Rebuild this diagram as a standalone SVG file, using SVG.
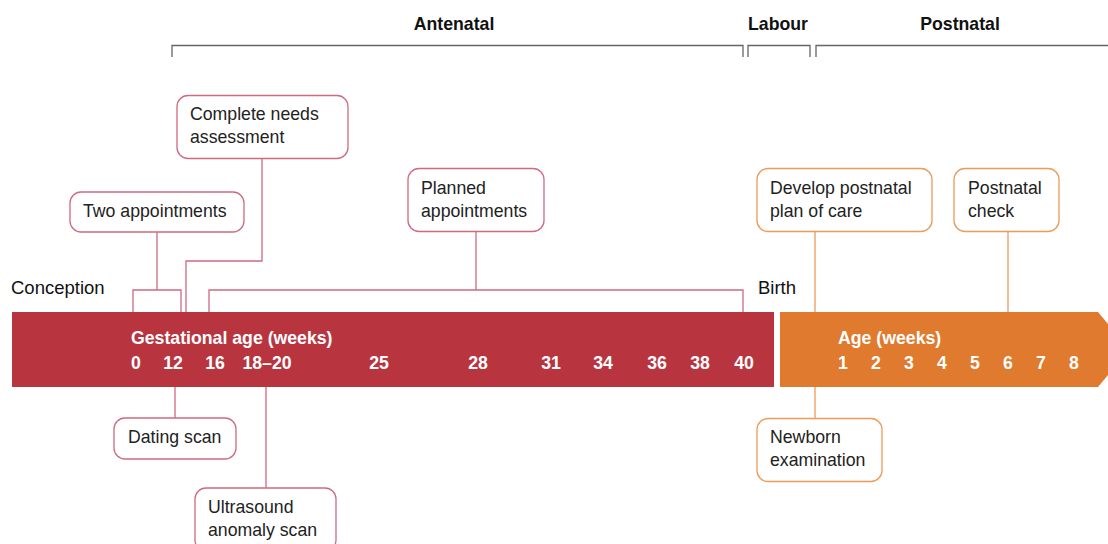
<svg xmlns="http://www.w3.org/2000/svg" width="1108" height="544" viewBox="0 0 1108 544">
<style>
text{font-family:"Liberation Sans",Arial,Helvetica,sans-serif;}
.hdr{font-size:17.7px;font-weight:bold;fill:#111;text-anchor:middle;}
.brk{fill:none;stroke:#666;stroke-width:1.3;}
.lbl{font-size:18.5px;fill:#111;}
.box{font-size:17.7px;fill:#222;}
.rbox{fill:#fff;stroke:#cf6a80;stroke-width:1.3;}
.obox{fill:#fff;stroke:#ee9a58;stroke-width:1.3;}
.rl{fill:none;stroke:#cf6a80;stroke-width:1.3;}
.ol{fill:none;stroke:#ee9a58;stroke-width:1.3;}
.bt{font-size:17.7px;font-weight:bold;fill:#fff;}
.num{font-size:17.7px;font-weight:bold;fill:#fff;text-anchor:middle;}
</style>
<rect width="1108" height="544" fill="#fff"/>
<g id="phases">
<text class="hdr" x="454" y="30">Antenatal</text>
<text class="hdr" x="778" y="30">Labour</text>
<text class="hdr" x="960" y="30">Postnatal</text>
<path class="brk" d="M172,57 V45.5 H743 V57"/>
<path class="brk" d="M748,57 V45.5 H810 V57"/>
<path class="brk" d="M816,57 V45.5 H1108"/>
</g>
<g id="bars">
<rect x="12" y="312" width="762" height="75" fill="#b83540"/>
<polygon points="780,312 1098,312 1129,349.5 1098,387 780,387" fill="#df7a2f"/>
<text class="bt" x="131" y="344">Gestational age (weeks)</text>
<text class="num" x="136" y="369">0</text>
<text class="num" x="173" y="369">12</text>
<text class="num" x="215" y="369">16</text>
<text class="num" x="267" y="369">18–20</text>
<text class="num" x="379" y="369">25</text>
<text class="num" x="478" y="369">28</text>
<text class="num" x="551" y="369">31</text>
<text class="num" x="603" y="369">34</text>
<text class="num" x="657" y="369">36</text>
<text class="num" x="700" y="369">38</text>
<text class="num" x="744" y="369">40</text>
<text class="bt" x="838" y="344">Age (weeks)</text>
<text class="num" x="843" y="369">1</text>
<text class="num" x="876" y="369">2</text>
<text class="num" x="909" y="369">3</text>
<text class="num" x="942" y="369">4</text>
<text class="num" x="975" y="369">5</text>
<text class="num" x="1008" y="369">6</text>
<text class="num" x="1041" y="369">7</text>
<text class="num" x="1074" y="369">8</text>
</g>
<g id="markers">
<text class="lbl" x="11" y="294">Conception</text>
<text class="lbl" x="758" y="294">Birth</text>
</g>
<g id="connectors">
<path class="rl" d="M157,232 V290 M133,312 V290 H181 V312"/>
<path class="rl" d="M262,159 V261 H186 V312"/>
<path class="rl" d="M476,232 V290 M209,312 V290 H743 V312"/>
<path class="rl" d="M175,387 V418"/>
<path class="rl" d="M266,387 V488"/>
<path class="ol" d="M815,232 V312"/>
<path class="ol" d="M1008,232 V312"/>
<path class="ol" d="M815,387 V418"/>
</g>
<g id="complete-needs">
<rect class="rbox" x="177" y="95.5" width="171" height="63" rx="11"/>
<text class="box" x="190" y="120">Complete needs</text>
<text class="box" x="190" y="143">assessment</text>
</g>
<g id="two-appointments">
<rect class="rbox" x="70" y="192" width="174" height="40" rx="11"/>
<text class="box" x="83" y="217">Two appointments</text>
</g>
<g id="planned-appointments">
<rect class="rbox" x="408" y="168.5" width="136" height="63" rx="11"/>
<text class="box" x="421" y="194">Planned</text>
<text class="box" x="421" y="217">appointments</text>
</g>
<g id="develop-plan">
<rect class="obox" x="757" y="168.5" width="175" height="63" rx="11"/>
<text class="box" x="770" y="194">Develop postnatal</text>
<text class="box" x="770" y="217">plan of care</text>
</g>
<g id="postnatal-check">
<rect class="obox" x="954" y="168.5" width="105" height="63" rx="11"/>
<text class="box" x="968" y="194">Postnatal</text>
<text class="box" x="968" y="217">check</text>
</g>
<g id="dating-scan">
<rect class="rbox" x="114" y="418" width="122" height="41" rx="11"/>
<text class="box" x="128" y="443">Dating scan</text>
</g>
<g id="ultrasound">
<rect class="rbox" x="195" y="488" width="141" height="63" rx="11"/>
<text class="box" x="208" y="513">Ultrasound</text>
<text class="box" x="208" y="536">anomaly scan</text>
</g>
<g id="newborn">
<rect class="obox" x="757" y="418.5" width="125" height="63" rx="11"/>
<text class="box" x="770" y="443">Newborn</text>
<text class="box" x="770" y="466">examination</text>
</g>
</svg>
